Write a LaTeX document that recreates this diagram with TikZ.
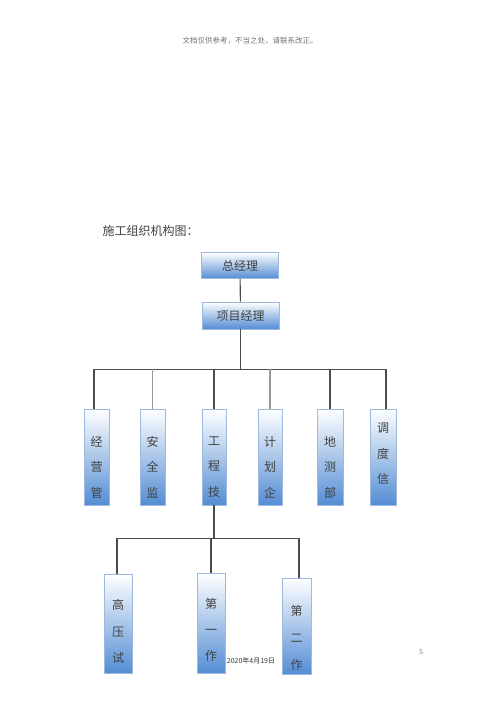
\documentclass[tikz,border=0pt]{standalone}
\usepackage{fontspec}
\newfontfamily\cjk{Noto Sans CJK SC}
\usepackage{tikz}
\usetikzlibrary{positioning}

\definecolor{boxblue}{RGB}{84,141,212}
\definecolor{boxedge}{RGB}{157,185,222}
\definecolor{txtgray}{RGB}{64,64,64}

\begin{document}
\begin{tikzpicture}[x=1pt, y=-1pt,
  unit/.style={draw=boxedge, line width=0.6pt, top color=white, bottom color=boxblue,
    inner sep=0pt, font=\cjk\fontsize{12}{12}\selectfont, text=txtgray},
  dept/.style={unit, minimum width=25pt, minimum height=96pt},
  team/.style={unit, minimum width=28pt, minimum height=99pt},
  vtext/.style={align=center, inner sep=0pt, text=txtgray,
    font=\cjk\fontsize{12}{25.5}\selectfont},
  link/.style={draw=black!70, line width=1.1pt},
  thinlink/.style={draw=black!40, line width=1.1pt}]

  \useasboundingbox (0,0) rectangle (500,707);

  % page furniture
  \node[font=\cjk\fontsize{7.5}{7.5}\selectfont, text=black!55] (head) at (250,41) {文档仅供参考，不当之处，请联系改正。};
  \node[font=\cjk\fontsize{12}{12}\selectfont, text=txtgray, anchor=west] (title) at (99,231) {施工组织机构图：};
  \node[font=\cjk\fontsize{7}{7}\selectfont, text=black!80] (date) at (251,661) {2020年4月19日};
  \node[font=\fontsize{7}{7}\selectfont, text=black!70] (page) at (421,652) {5};

  % top of the tree
  \node[unit, minimum width=77pt, minimum height=26pt] (gm) at (240,265.5) {总经理};
  \node[unit, minimum width=77pt, minimum height=27pt] (pm) at (240.5,315.5) {项目经理};
  \draw[link] (gm) -- (pm);

  % departments
  \node[dept] (b1) at (96.5,457) {};
  \node[dept] (b2) at (152.5,457) {};
  \node[dept, minimum width=24pt] (b3) at (214,457) {};
  \node[dept, minimum width=24pt] (b4) at (270,457) {};
  \node[dept, minimum width=26pt] (b5) at (330,457) {};
  \node[dept, minimum width=26pt] (b6) at (383,457) {};

  \node[vtext, yshift=-10pt] (t1) at (b1.center) {经\\营\\管};
  \node[vtext, yshift=-10pt] (t2) at (b2.center) {安\\全\\监};
  \node[vtext, yshift=-10pt] (t3) at (b3.center) {工\\程\\技};
  \node[vtext, yshift=-10pt] (t4) at (b4.center) {计\\划\\企};
  \node[vtext, yshift=-10pt] (t5) at (b5.center) {地\\测\\部};
  \node[vtext, yshift=3pt] (t6) at (b6.center) {调\\度\\信};

  \draw[link] (pm.south) -- ++(0,40) coordinate (bus);
  \draw[link] (bus) -| ([xshift=-2.5pt]b1.north);
  \draw[link] (bus) -| ([xshift=3pt]b6.north);
  \draw[link] (bus) -| (b3.north);
  \draw[link] (bus) -| (b5.north);
  \draw[thinlink] (b2.north) -- (b2.north |- bus);
  \draw[thinlink] (b4.north) -- (b4.north |- bus);

  % work teams under b3
  \node[team] (lA) at (118,623.5) {};
  \node[team, minimum height=100pt] (lB) at (211,623) {};
  \node[team, minimum width=29pt, minimum height=96pt] (lC) at (296.5,626) {};

  \node[vtext, yshift=-8pt, font=\cjk\fontsize{12}{26.5}\selectfont] (tA) at (lA.center) {高\\压\\试};
  \node[vtext, yshift=-7pt, font=\cjk\fontsize{12}{26}\selectfont] (tB) at (lB.center) {第\\一\\作};
  \node[vtext, yshift=-12pt, font=\cjk\fontsize{12}{27}\selectfont] (tC) at (lC.center) {第\\二\\作};

  \draw[link] (b3.south) -- ++(0,33) coordinate (lbus);
  \draw[link] (lbus) -| ([xshift=-1pt]lA.north);
  \draw[link] (lbus) -| ([xshift=2.5pt]lC.north);
  \draw[link] (lB.north) -- (lB.north |- lbus);
\end{tikzpicture}
\end{document}
